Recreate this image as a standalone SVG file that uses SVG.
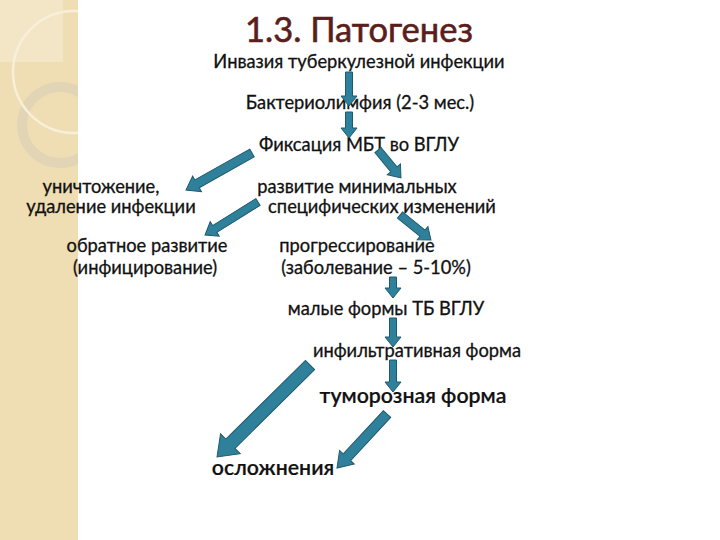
<svg xmlns="http://www.w3.org/2000/svg" width="720" height="540" viewBox="0 0 720 540">
<defs>
<style>
.t{font-family:Lato,"Noto Sans",sans-serif;font-size:18.3px;fill:#111;stroke:#111;stroke-width:0.3;text-anchor:middle}
.big{font-size:21.3px;font-weight:600;stroke-width:0.2}
.title{font-family:Lato,"Noto Sans",sans-serif;font-size:34.5px;fill:#5A1E1C;stroke:#5A1E1C;stroke-width:0.6;text-anchor:middle}
.arr{fill:#2F819B;stroke:#1F5A6C;stroke-width:1;stroke-linejoin:miter}
</style>
<clipPath id="strip"><rect x="0" y="0" width="78" height="540"/></clipPath>
</defs>
<rect width="720" height="540" fill="#fff"/>
<g id="background">
<rect x="0" y="0" width="78" height="540" fill="#EFDDB3"/>
<g clip-path="url(#strip)">
<rect x="0" y="0" width="63" height="62" fill="#F3E6C6"/>
<circle cx="60" cy="125" r="38" fill="none" stroke="#E2D5B5" stroke-width="10"/>
<circle cx="74" cy="72" r="61" fill="none" stroke="#F8EFD9" stroke-width="2.5"/>
</g>
</g>
<g id="title"><text class="title" x="359" y="42">1.3. Патогенез</text></g>
<g id="n1"><text class="t" x="359" y="68">Инвазия туберкулезной инфекции</text></g>
<g id="n2"><text class="t" x="360" y="109">Бактериолимфия (2-3 мес.)</text></g>
<g id="n3"><text class="t" x="359" y="151">Фиксация МБТ во ВГЛУ</text></g>
<g id="n4"><text class="t" x="101" y="193">уничтожение,</text><text class="t" x="111" y="213">удаление инфекции</text></g>
<g id="n5"><text class="t" x="357" y="193">развитие минимальных</text><text class="t" x="382" y="213">специфических изменений</text></g>
<g id="n6"><text class="t" x="147" y="252">обратное развитие</text><text class="t" x="145" y="274">(инфицирование)</text></g>
<g id="n7"><text class="t" x="357" y="252">прогрессирование</text><text class="t" x="376" y="274">(заболевание – 5-10%)</text></g>
<g id="n8"><text class="t" x="386" y="315">малые формы ТБ ВГЛУ</text></g>
<g id="n9"><text class="t" x="417" y="357">инфильтративная форма</text></g>
<g id="n10"><text class="t big" x="413" y="403">туморозная форма</text></g>
<g id="n11"><text class="t big" x="273" y="475">осложнения</text></g>
<g id="connectors">
<path class="arr" transform="translate(349,72) rotate(90)" d="M0,-3.5 L24,-3.5 L24,-8 L34,0 L24,8 L24,3.5 L0,3.5 Z"/>
<path class="arr" transform="translate(349,112) rotate(90)" d="M0,-3.5 L16,-3.5 L16,-8 L26,0 L16,8 L16,3.5 L0,3.5 Z"/>
<path class="arr" transform="translate(252,153) rotate(150.7)" d="M0,-4.5 L63,-4.5 L63,-9 L75.7,0 L63,9 L63,4.5 L0,4.5 Z"/>
<path class="arr" transform="translate(378,150) rotate(50.6)" d="M0,-4 L25,-4 L25,-8.5 L36.2,0 L25,8.5 L25,4 L0,4 Z"/>
<path class="arr" transform="translate(258,202) rotate(148.1)" d="M0,-4 L51,-4 L51,-8.5 L62.4,0 L51,8.5 L51,4 L0,4 Z"/>
<path class="arr" transform="translate(400,215) rotate(38.9)" d="M0,-4 L29,-4 L29,-8.5 L39.8,0 L29,8.5 L29,4 L0,4 Z"/>
<path class="arr" transform="translate(393,277) rotate(90)" d="M0,-3.5 L11,-3.5 L11,-8 L21,0 L11,8 L11,3.5 L0,3.5 Z"/>
<path class="arr" transform="translate(393,318) rotate(90)" d="M0,-3.5 L19,-3.5 L19,-8 L29,0 L19,8 L19,3.5 L0,3.5 Z"/>
<path class="arr" transform="translate(393,360) rotate(90)" d="M0,-3.5 L22,-3.5 L22,-8 L32,0 L22,8 L22,3.5 L0,3.5 Z"/>
<path class="arr" transform="translate(310,365) rotate(135.3)" d="M0,-6.5 L112,-6.5 L112,-14 L130.8,0 L112,14 L112,6.5 L0,6.5 Z"/>
<path class="arr" transform="translate(387,414) rotate(132.8)" d="M0,-5 L59,-5 L59,-10 L73.6,0 L59,10 L59,5 L0,5 Z"/>
</g>
</svg>
